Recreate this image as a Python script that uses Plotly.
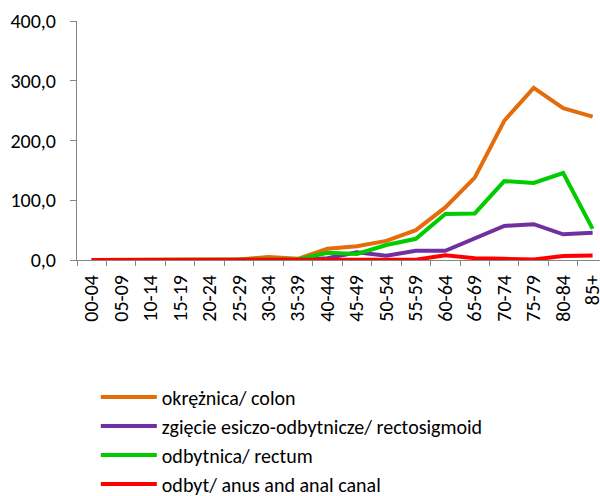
import plotly.graph_objects as go

age_groups = ["00-04", "05-09", "10-14", "15-19", "20-24", "25-29", "30-34", "35-39",
              "40-44", "45-49", "50-54", "55-59", "60-64", "65-69", "70-74", "75-79",
              "80-84", "85+"]

colon = [0.0, 0.0, 0.0, 1.0, 0.5, 1.0, 5.0, 2.0, 19.0, 23.0, 32.0, 50.0, 88.0, 138.0,
         233.0, 288.0, 254.0, 240.0]
rectosigmoid = [0.0, 0.0, 0.0, 0.0, 0.0, 0.0, 0.0, 0.0, 3.0, 13.0, 7.0, 15.5, 15.5, 35.5,
                57.0, 60.0, 43.0, 45.5]
rectum = [0.0, 0.0, 0.0, 0.0, 0.0, 0.5, 1.0, 1.0, 12.0, 10.0, 25.0, 35.5, 77.0, 78.0,
          132.0, 129.0, 145.5, 52.0]
anus = [0.0, 0.0, 0.0, 0.0, 0.0, 0.0, 0.0, 0.0, 0.0, 0.0, 0.5, 0.5, 8.0, 3.0,
        2.0, 1.0, 6.5, 7.5]

series = [
    ("okrężnica/ colon", colon, "#E46C0A"),
    ("zgięcie esiczo-odbytnicze/ rectosigmoid", rectosigmoid, "#7030A0"),
    ("odbytnica/ rectum", rectum, "#00CC00"),
    ("odbyt/ anus and anal canal", anus, "#FF0000"),
]

FONT = "Carlito, Lato, sans-serif"

fig = go.Figure()
for name, vals, col in series:
    fig.add_trace(go.Scatter(x=age_groups, y=vals, name=name, mode="lines",
                             line=dict(color=col, width=4)))

fig.update_layout(
    width=600, height=510,
    margin=dict(l=77, r=0, t=21, b=250),
    paper_bgcolor="white", plot_bgcolor="white",
    separators=", ",
    font=dict(family=FONT, size=20, color="black"),
    showlegend=True,
    legend=dict(orientation="v", x=0.036, y=-0.4916, xanchor="left", yanchor="top",
                font=dict(family=FONT, size=20, color="black"),
                itemwidth=56, tracegroupgap=0, bgcolor="rgba(0,0,0,0)"),
)
fig.update_xaxes(
    type="category", range=[-0.5, 17.25], tickangle=-90, automargin=False,
    showline=True, linecolor="#868686", linewidth=1,
    ticks="outside", tickson="boundaries", ticklen=5, tickcolor="#868686",
    showgrid=False, zeroline=False, ticklabelstandoff=6,
    tickfont=dict(family=FONT, size=20, color="black"),
)
fig.update_yaxes(
    range=[0, 400], tickvals=[0, 100, 200, 300, 400], tickformat=".1f", automargin=False,
    showline=True, linecolor="#868686", linewidth=1,
    ticks="outside", ticklen=6, tickcolor="#868686",
    showgrid=False, zeroline=False, ticklabelstandoff=10,
    tickfont=dict(family=FONT, size=20, color="black"),
)

fig.write_html(
    "out.html",
    config={"displayModeBar": False},
    post_script="document.body.style.margin='0';document.body.style.overflow='hidden';",
)
